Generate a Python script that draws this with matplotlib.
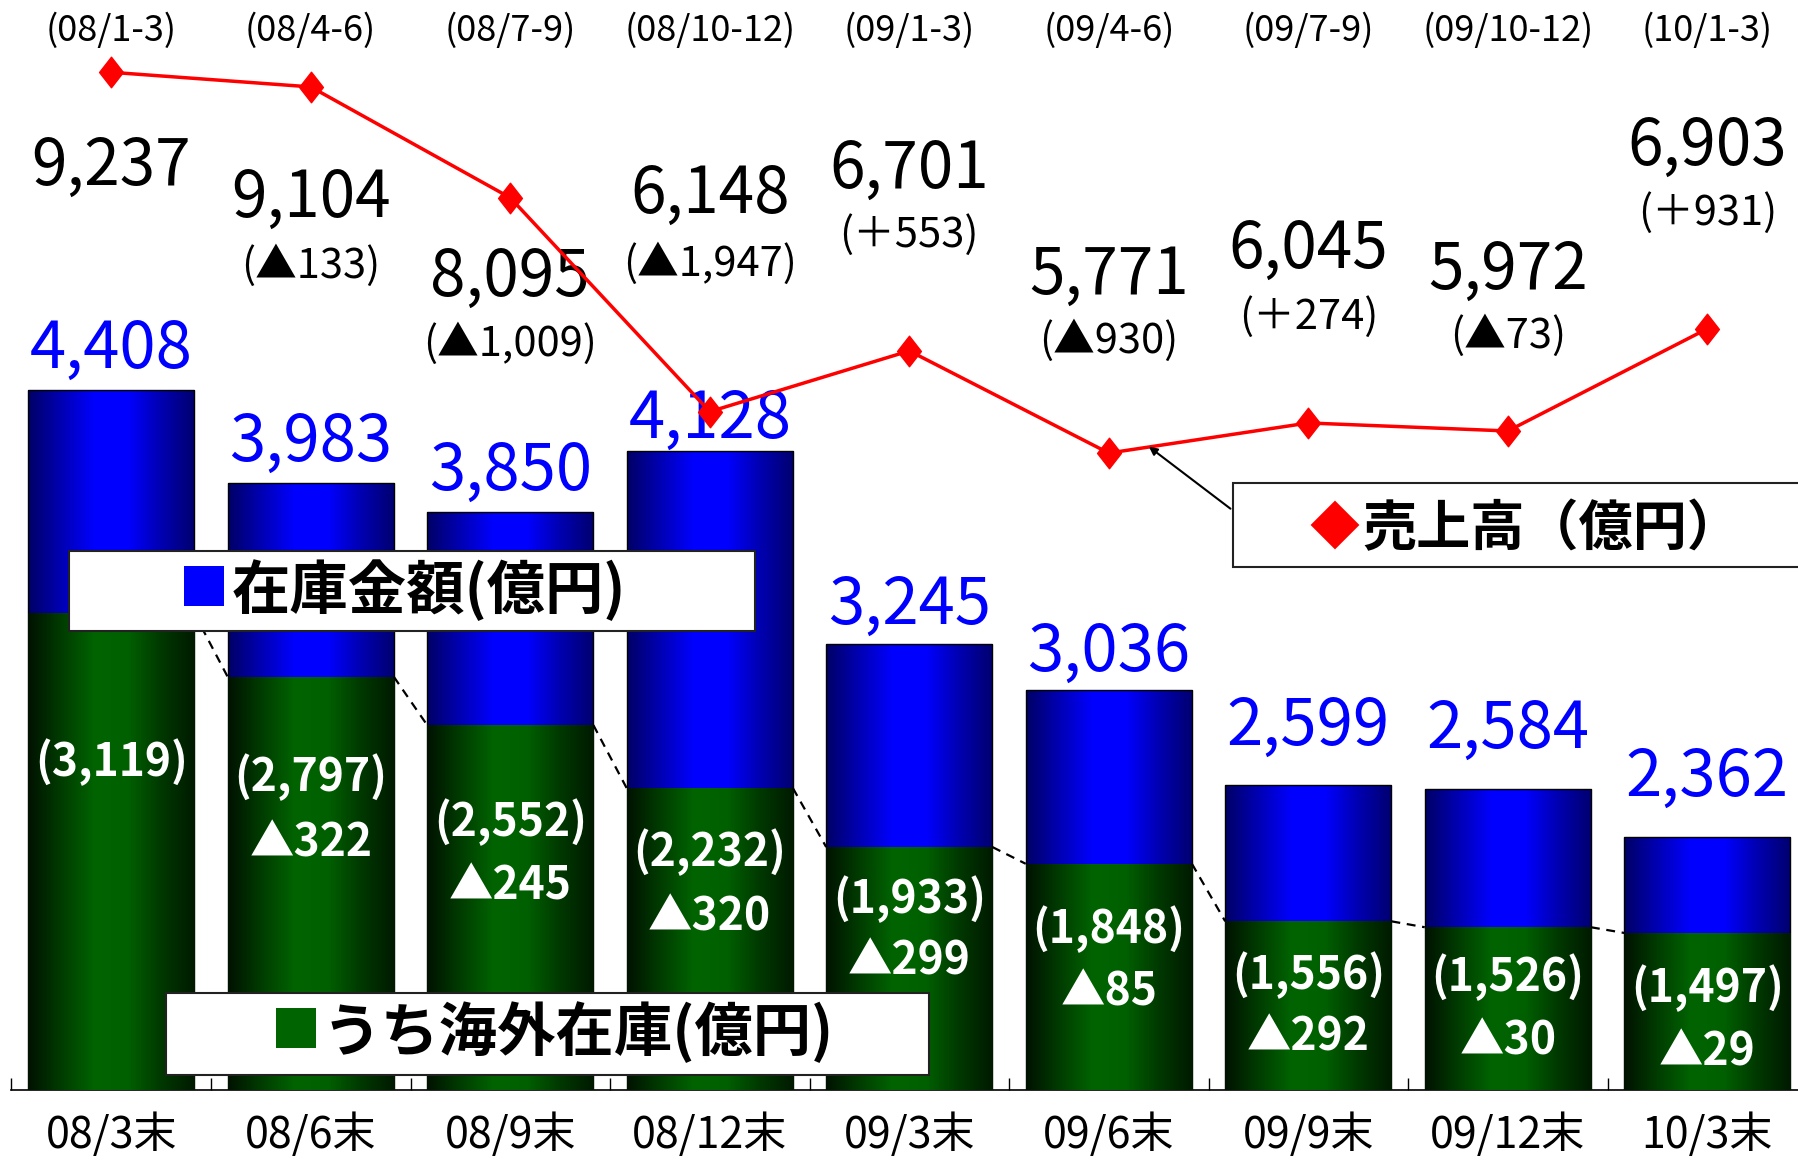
import numpy as np
import matplotlib
matplotlib.use("Agg")
import matplotlib.pyplot as plt
import matplotlib.transforms as mtransforms
from matplotlib.colors import LinearSegmentedColormap
from matplotlib.patches import Rectangle, FancyArrowPatch
from matplotlib.path import Path

plt.rcParams['font.family'] = ['Noto Sans CJK JP', 'DejaVu Sans']

# ---------------- data ----------------
categories = ['08/3末', '08/6末', '08/9末', '08/12末', '09/3末', '09/6末', '09/9末', '09/12末', '10/3末']
quarters = ['(08/1-3)', '(08/4-6)', '(08/7-9)', '(08/10-12)', '(09/1-3)', '(09/4-6)',
            '(09/7-9)', '(09/10-12)', '(10/1-3)']
inventory = [4408, 3983, 3850, 4128, 3245, 3036, 2599, 2584, 2362]
overseas = [3119, 2797, 2552, 2232, 1933, 1848, 1556, 1526, 1497]
overseas_change = [None, -322, -245, -320, -299, -85, -292, -30, -29]
sales = [9237, 9104, 8095, 6148, 6701, 5771, 6045, 5972, 6903]
sales_change = [None, -133, -1009, -1947, 553, -930, 274, -73, 931]

# ---------------- layout (reference grid 1568 x 1014) ----------------
W, H = 1568.0, 1014.0
def fx(v): return v / W
def fy(v): return 1 - v / H
PT = 0.8256  # reference px -> points

sales_label_y = [145, 173, 242, 170, 148, 240, 218, 236, 128]
sales_change_y = [None, 232, 300, 230, 205, 297, 276, 293, 186]
inv_label_off = [35, 35, 35, 28, 34, 33, 51, 52, 52]
ovs_label_y = [665, 678, 717, 743, 784, 810, 850, 852, 862]
ovs_change_y = [None, 735, 773, 800, 838, 865, 905, 908, 918]

def chg(v):
    return ('▲' if v < 0 else '＋') + f'{abs(v):,}'

fig = plt.figure(figsize=(17.98, 11.63), dpi=100)
ax1 = fig.add_axes([fx(10), fy(950), 0.9987, 950 / H])
ax2 = ax1.twinx()
ax3 = ax1.twinx()

x = np.arange(len(categories))
bw = 0.833

Y1 = (1208, 6192)
Y2 = (702, 6232)
Y3 = (-23, 9895)

blue_cmap = LinearSegmentedColormap.from_list(
    'b', ['#000066', '#0000b4', '#0000ff', '#0000ff', '#0000b0', '#000070'])
green_cmap = LinearSegmentedColormap.from_list(
    'g', ['#001200', '#003c00', '#006400', '#006000', '#003800', '#001a00'])

def grad_bars(ax, bars, cmap, lo):
    g = np.linspace(0, 1, 256).reshape(1, -1)
    for b in bars:
        x0, y0, w, h = b.get_x(), b.get_y(), b.get_width(), b.get_height()
        ax.imshow(g, cmap=cmap, aspect='auto', extent=(x0, x0 + w, max(y0, lo), y0 + h),
                  interpolation='bilinear', zorder=0.5)

blue = ax1.bar(x, inventory, bw, facecolor='none', edgecolor='black', linewidth=1.0, zorder=1)
grad_bars(ax1, blue, blue_cmap, Y1[0])
green = ax2.bar(x, overseas, bw, facecolor='none', edgecolor='none', zorder=1)
grad_bars(ax2, green, green_cmap, Y2[0])

for i in range(len(x) - 1):
    ax2.plot([x[i] + bw / 2, x[i + 1] - bw / 2], [overseas[i], overseas[i + 1]],
             color='black', lw=1.6, ls=(0, (4, 3)), zorder=2)

diamond = Path([(0, 1), (0.78, 0), (0, -1), (-0.78, 0), (0, 1)],
               [Path.MOVETO, Path.LINETO, Path.LINETO, Path.LINETO, Path.CLOSEPOLY])
ax3.plot(x, sales, color='#ff0000', lw=2.5, marker=diamond, markersize=22,
         mfc='#ff0000', mec='#ff0000', zorder=3)

ax1.set_xlim(-0.5, 8.5)
ax1.set_ylim(*Y1)
ax2.set_ylim(*Y2)
ax3.set_ylim(*Y3)

for a in (ax1, ax2, ax3):
    for s in ('top', 'left', 'right'):
        a.spines[s].set_visible(False)
    a.set_yticks([])
for a in (ax2, ax3):
    a.spines['bottom'].set_visible(False)
ax1.spines['bottom'].set_linewidth(1.2)
ax1.set_xticks(x)
ax1.set_xticklabels([])
ax1.tick_params(axis='x', which='major', length=0)
ax1.set_xticks(np.arange(-0.5, len(x), 1.0), minor=True)
ax1.tick_params(axis='x', which='minor', direction='in', length=8.5, width=1.0, color='black')

tr1 = mtransforms.blended_transform_factory(ax1.transData, fig.transFigure)
tr2 = mtransforms.blended_transform_factory(ax2.transData, fig.transFigure)

for i in x:
    ax1.text(i, fy(27), quarters[i], fontsize=26, ha='center', va='center', transform=tr1)
    ax1.text(i, fy(990), categories[i], fontsize=31, ha='center', va='center', transform=tr1)
    ax1.text(i, fy(sales_label_y[i]), f'{sales[i]:,}', fontsize=46, ha='center', va='center',
             transform=tr1)
    if sales_change[i] is not None:
        ax1.text(i, fy(sales_change_y[i]), '(' + chg(sales_change[i]) + ')', fontsize=30,
                 ha='center', va='center', transform=tr1)
    ax1.annotate(f'{inventory[i]:,}', xy=(i, inventory[i]), xytext=(0, inv_label_off[i] * PT),
                 textcoords='offset points', ha='center', va='center', fontsize=47, color='#0000ff')
    ax2.text(i, fy(ovs_label_y[i]), f'({overseas[i]:,})', fontsize=32, color='white',
             weight='bold', ha='center', va='center', transform=tr2, zorder=4)
    if overseas_change[i] is not None:
        ax2.text(i, fy(ovs_change_y[i]), chg(overseas_change[i]), fontsize=32, color='white',
                 weight='bold', ha='center', va='center', transform=tr2, zorder=4)

def box(x0, y0, x1, y1):
    fig.add_artist(Rectangle((fx(x0), fy(y1)), fx(x1) - fx(x0), (y1 - y0) / H,
                             transform=fig.transFigure, facecolor='white',
                             edgecolor='#222222', lw=1.5, zorder=5))

box(60, 480, 658, 550)
fig.text(fx(178), fy(515), '■', color='#0000ff', fontsize=36, ha='center', va='center', zorder=6)
fig.text(fx(202), fy(515), '在庫金額(億円)', fontsize=42, weight='bold', ha='left',
         va='center', zorder=6)

box(145, 866, 810, 937)
fig.text(fx(258), fy(901), '■', color='#006400', fontsize=36, ha='center', va='center', zorder=6)
fig.text(fx(281), fy(901), 'うち海外在庫(億円)', fontsize=42, weight='bold', ha='left',
         va='center', zorder=6)

box(1075, 421, 1590, 494)
fig.text(fx(1164), fy(462), '◆', color='#ff0000', fontsize=36, ha='center', va='center', zorder=6)
fig.text(fx(1188), fy(462), '売上高（億円）', fontsize=39, weight='bold', ha='left',
         va='center', zorder=6)

fig.add_artist(FancyArrowPatch((fx(1075), fy(445)), (fx(1000), fy(388)),
                               transform=fig.transFigure, arrowstyle='-|>',
                               mutation_scale=12, lw=1.5, color='black', zorder=4))

fig.savefig('out.png', dpi=100)
